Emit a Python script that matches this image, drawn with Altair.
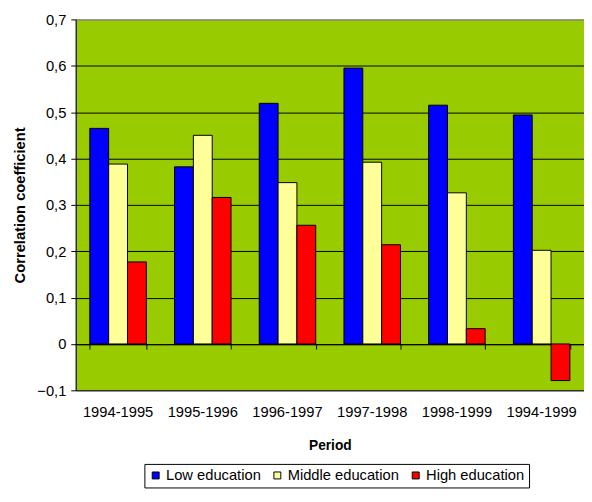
import altair as alt
import pandas as pd

periods = ["1994-1995", "1995-1996", "1996-1997", "1997-1998", "1998-1999", "1994-1999"]
groups = ["Low education", "Middle education", "High education"]
low = [0.465, 0.382, 0.519, 0.595, 0.515, 0.494]
middle = [0.388, 0.450, 0.348, 0.392, 0.326, 0.202]
high = [0.177, 0.316, 0.256, 0.214, 0.033, -0.079]
colors = ["#0000FF", "#FFFF99", "#FF0000"]
y_ticks = [-0.1, 0, 0.1, 0.2, 0.3, 0.4, 0.5, 0.6, 0.7]

rows = []
for i, p in enumerate(periods):
    for g, vals in zip(groups, [low, middle, high]):
        rows.append({"Period": p, "Group": g, "Value": vals[i]})
df = pd.DataFrame(rows)

FONT = "Liberation Sans"
xscale = alt.Scale(domain=periods, paddingInner=0.333, paddingOuter=0.1667)
yscale = alt.Scale(domain=[-0.1, 0.7], nice=False, zero=False)

bars = alt.Chart(df).mark_bar(stroke="black", strokeWidth=1).encode(
    x=alt.X("Period:N", scale=xscale, sort=periods,
            axis=alt.Axis(orient="bottom", title="Period", domain=False, ticks=False,
                          labelAngle=0, labelFont=FONT, labelFontSize=15, labelColor="black",
                          labelPadding=15, titleFont=FONT, titleFontSize=14,
                          titleFontWeight="bold", titleColor="black", titlePadding=19,
                          grid=False)),
    xOffset=alt.XOffset("Group:N", sort=groups,
                        scale=alt.Scale(domain=groups, paddingInner=0, paddingOuter=0)),
    y=alt.Y("Value:Q", scale=yscale,
            axis=alt.Axis(values=y_ticks, title="Correlation coefficient",
                          labelExpr="abs(datum.value) < 1e-9 ? '0' : replace(format(datum.value, '.1f'), '.', ',')",
                          grid=True,
                          gridColor=alt.condition("datum.value > 0.65", alt.value("#808080"), alt.value("black")),
                          gridWidth=1,
                          domainColor="black", tickColor="black", tickSize=5,
                          labelFont=FONT, labelFontSize=15, labelColor="black", labelPadding=5,
                          titleFont=FONT, titleFontSize=15, titleFontWeight="bold",
                          titleColor="black", titlePadding=10)),
    color=alt.Color("Group:N", sort=groups,
                    scale=alt.Scale(domain=groups, range=colors),
                    legend=alt.Legend(orient="none", legendX=70, legendY=453,
                                      direction="horizontal", title=None,
                                      symbolType="square", symbolSize=50,
                                      symbolStrokeColor="black", symbolStrokeWidth=1,
                                      labelFont=FONT, labelFontSize=15, labelColor="black",
                                      columnPadding=9, labelOffset=3, padding=4,
                                      strokeColor="black", fillColor="white")),
)

zero = alt.Chart(pd.DataFrame({"Period": periods})).mark_point(opacity=0).encode(
    x=alt.X("Period:N", scale=xscale, sort=periods,
            axis=alt.Axis(orient="bottom", offset=-47, labels=False, title=None,
                          domain=True, domainColor="black", domainWidth=1,
                          ticks=True, tickColor="black", tickSize=5, tickBand="extent",
                          grid=False)),
    y=alt.Y(datum=0, type="quantitative", scale=yscale),
)

chart = alt.layer(bars, zero).resolve_axis(x="independent").properties(
    width=518, height=378,
    padding={"left": 4, "top": 0, "right": 0, "bottom": 0},
    background="white",
).configure_view(fill="#99CC00", stroke="#808080", strokeWidth=1)

chart.save("out.html", embed_options={"renderer": "svg", "actions": False})
